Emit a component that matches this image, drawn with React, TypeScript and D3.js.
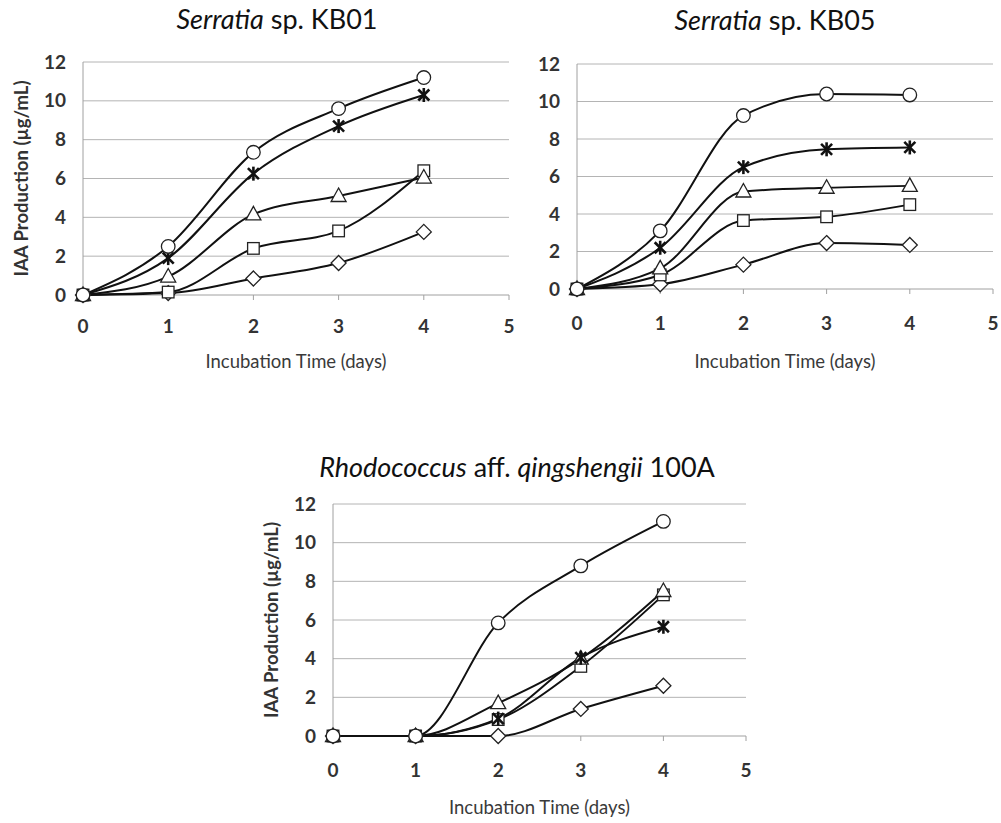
import React from "react";
import * as d3 from "d3";

const days = [0, 1, 2, 3, 4];
const xTicks = [0, 1, 2, 3, 4, 5];
const yTicks = [0, 2, 4, 6, 8, 10, 12];
const markerOrder = ["diamond", "square", "triangle", "star", "circle"];

// Serratia sp. KB01
const kb01Circle = [0, 2.5, 7.35, 9.6, 11.2];
const kb01Star = [0, 1.9, 6.25, 8.7, 10.3];
const kb01Triangle = [0, 0.95, 4.15, 5.1, 6.05];
const kb01Square = [0, 0.15, 2.4, 3.3, 6.4];
const kb01Diamond = [0, 0.1, 0.85, 1.65, 3.25];

// Serratia sp. KB05
const kb05Circle = [0, 3.1, 9.25, 10.4, 10.35];
const kb05Star = [0, 2.2, 6.5, 7.45, 7.55];
const kb05Triangle = [0, 1.1, 5.2, 5.4, 5.5];
const kb05Square = [0, 0.75, 3.65, 3.85, 4.5];
const kb05Diamond = [0, 0.25, 1.3, 2.45, 2.35];

// Rhodococcus aff. qingshengii 100A
const rhCircle = [0, 0, 5.85, 8.8, 11.1];
const rhStar = [0, 0, 0.9, 4.05, 5.65];
const rhTriangle = [0, 0, 1.7, 4.0, 7.5];
const rhSquare = [0, 0, 0.85, 3.6, 7.3];
const rhDiamond = [0, 0, 0.0, 1.4, 2.6];

const FONT = "Lato, 'Open Sans', sans-serif";

type Series = { shape: string; values: number[] };

function Marker({ shape, x, y }: { shape: string; x: number; y: number }) {
  const st = { fill: "#fff", stroke: "#222", strokeWidth: 1.3 };
  if (shape === "circle") return <circle cx={x} cy={y} r={6.8} {...st} />;
  if (shape === "square") return <rect x={x - 5.8} y={y - 5.8} width={11.6} height={11.6} {...st} />;
  if (shape === "triangle") {
    const p = d3.path();
    p.moveTo(x, y - 8);
    p.lineTo(x + 7.5, y + 5.5);
    p.lineTo(x - 7.5, y + 5.5);
    p.closePath();
    return <path d={p.toString()} {...st} />;
  }
  if (shape === "diamond") {
    const p = d3.path();
    p.moveTo(x, y - 7.5);
    p.lineTo(x + 7.5, y);
    p.lineTo(x, y + 7.5);
    p.lineTo(x - 7.5, y);
    p.closePath();
    return <path d={p.toString()} {...st} />;
  }
  // star (X with vertical bar)
  const s = 5.5;
  return (
    <g stroke="#111" strokeWidth={2.6} strokeLinecap="butt">
      <line x1={x - s} y1={y - s} x2={x + s} y2={y + s} />
      <line x1={x - s} y1={y + s} x2={x + s} y2={y - s} />
      <line x1={x} y1={y - s - 1.5} x2={x} y2={y + s + 1.5} />
    </g>
  );
}

function Panel({
  x0, x1, yTop, yBot, series, title, showYTitle, xLabelDy, xTitleY, yTitleX,
}: {
  x0: number; x1: number; yTop: number; yBot: number; series: Series[];
  title: React.ReactNode; showYTitle: boolean; xLabelDy: number; xTitleY: number; yTitleX: number;
}) {
  const x = d3.scaleLinear().domain([0, 5]).range([x0, x1]);
  const y = d3.scaleLinear().domain([0, 12]).range([yBot, yTop]);
  const line = d3
    .line<number>()
    .x((_, i) => x(days[i]))
    .y((d) => y(d))
    .curve(d3.curveMonotoneX);
  const ordered = markerOrder
    .map((m) => series.find((s) => s.shape === m))
    .filter(Boolean) as Series[];
  const cx = (x0 + x1) / 2;
  return (
    <g>
      {title}
      {yTicks.map((t) => (
        <g key={t}>
          {t > 0 && (
            <line x1={x0} x2={x1} y1={y(t)} y2={y(t)} stroke="#b4b4b4" strokeWidth={1} />
          )}
          <text
            x={x0 - 17}
            y={y(t) + 6.5}
            textAnchor="end"
            fontFamily={FONT}
            fontWeight={700}
            fontSize={19}
            fill="#333"
          >
            {t}
          </text>
        </g>
      ))}
      <line x1={x0} x2={x0} y1={yTop} y2={yBot} stroke="#a0a0a0" strokeWidth={1} />
      <line x1={x0} x2={x1} y1={yBot} y2={yBot} stroke="#a0a0a0" strokeWidth={1} />
      {xTicks.map((t) => (
        <g key={t}>
          <line x1={x(t)} x2={x(t)} y1={yBot} y2={yBot + 5} stroke="#a0a0a0" strokeWidth={1} />
          <text
            x={x(t)}
            y={yBot + xLabelDy}
            textAnchor="middle"
            fontFamily={FONT}
            fontWeight={700}
            fontSize={19}
            fill="#333"
          >
            {t}
          </text>
        </g>
      ))}
      <text
        x={cx}
        y={xTitleY}
        textAnchor="middle"
        fontFamily={FONT}
        fontSize={18.5}
        fill="#3a3a3a"
      >
        Incubation Time (days)
      </text>
      {showYTitle && (
        <text
          transform={`translate(${yTitleX},${(yTop + yBot) / 2}) rotate(-90)`}
          textAnchor="middle"
          fontFamily={FONT}
          fontWeight={700}
          fontSize={18.5}
          fill="#333"
        >
          IAA Production (µg/mL)
        </text>
      )}
      {ordered.map((s) => (
        <path key={s.shape} d={line(s.values) || ""} fill="none" stroke="#111" strokeWidth={2} />
      ))}
      {ordered.map((s) =>
        s.values.map((v, i) => (
          <Marker key={s.shape + i} shape={s.shape} x={x(days[i])} y={y(v)} />
        ))
      )}
    </g>
  );
}

function Title({ cx, y, parts }: { cx: number; y: number; parts: [string, boolean][] }) {
  return (
    <text x={cx} y={y} textAnchor="middle" fontFamily={FONT} fontSize={27} fill="#111">
      {parts.map(([t, it], i) => (
        <tspan key={i} fontStyle={it ? "italic" : "normal"}>
          {t}
        </tspan>
      ))}
    </text>
  );
}

export default function App() {
  const kb01: Series[] = [
    { shape: "circle", values: kb01Circle },
    { shape: "star", values: kb01Star },
    { shape: "triangle", values: kb01Triangle },
    { shape: "square", values: kb01Square },
    { shape: "diamond", values: kb01Diamond },
  ];
  const kb05: Series[] = [
    { shape: "circle", values: kb05Circle },
    { shape: "star", values: kb05Star },
    { shape: "triangle", values: kb05Triangle },
    { shape: "square", values: kb05Square },
    { shape: "diamond", values: kb05Diamond },
  ];
  const rh: Series[] = [
    { shape: "circle", values: rhCircle },
    { shape: "star", values: rhStar },
    { shape: "triangle", values: rhTriangle },
    { shape: "square", values: rhSquare },
    { shape: "diamond", values: rhDiamond },
  ];
  return (
    <svg
      width={1001}
      height={823}
      style={{ position: "absolute", left: 0, top: 0, background: "#fff" }}
    >
      <rect width={1001} height={823} fill="#fff" />
      <Panel
        x0={83} x1={509} yTop={62} yBot={295} series={kb01}
        title={<Title cx={277} y={29} parts={[["Serratia", true], [" sp. KB01", false]]} />}
        showYTitle xLabelDy={38} xTitleY={368} yTitleX={28}
      />
      <Panel
        x0={577} x1={993} yTop={64} yBot={289} series={kb05}
        title={<Title cx={775} y={30} parts={[["Serratia", true], [" sp. KB05", false]]} />}
        showYTitle={false} xLabelDy={41} xTitleY={368} yTitleX={0}
      />
      <Panel
        x0={333} x1={746} yTop={504} yBot={736} series={rh}
        title={
          <Title
            cx={517}
            y={477}
            parts={[["Rhodococcus", true], [" aff. ", false], ["qingshengii", true], [" 100A", false]]}
          />
        }
        showYTitle xLabelDy={41} xTitleY={814} yTitleX={278}
      />
    </svg>
  );
}
